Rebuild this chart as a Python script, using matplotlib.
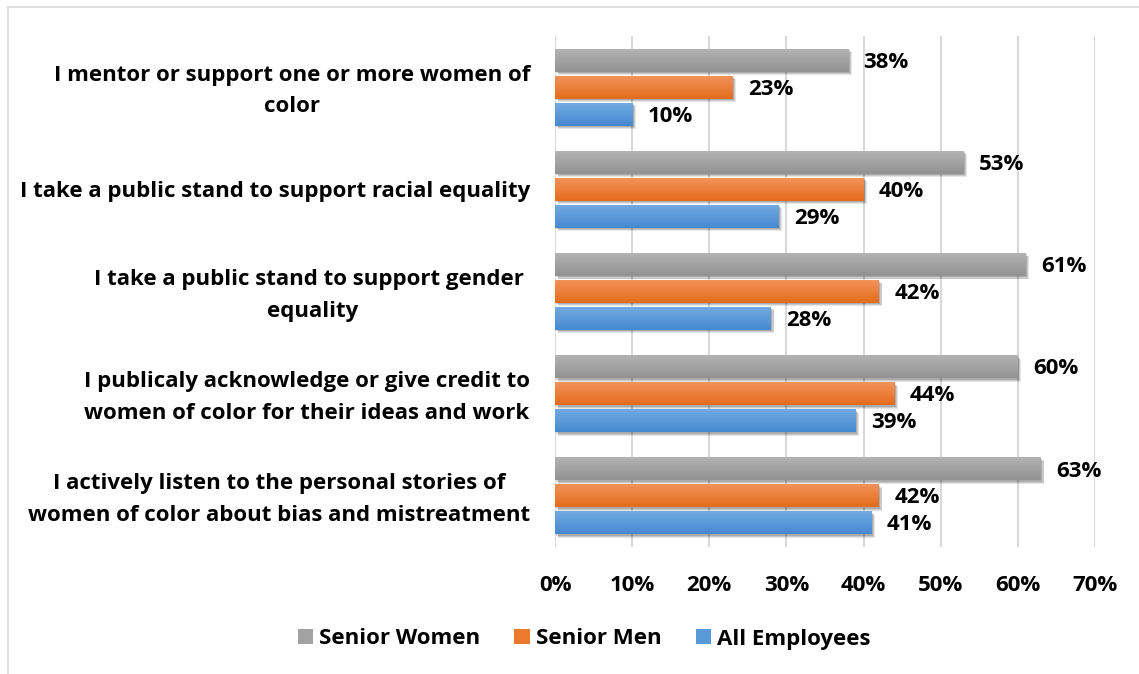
import numpy as np
import matplotlib
matplotlib.use("Agg")
import matplotlib.pyplot as plt
from matplotlib import patheffects as pe
from matplotlib import transforms
from matplotlib.patches import Rectangle
from matplotlib.lines import Line2D

plt.rcParams['font.family'] = ['Open Sans', 'DejaVu Sans']
plt.rcParams['font.weight'] = 'bold'

categories = [
    "I mentor or support one or more women of\ncolor",
    "I take a public stand to support racial equality",
    "I take a public stand to support gender \nequality",
    "I publicaly acknowledge or give credit to\nwomen of color for their ideas and work",
    "I actively listen to the personal stories of\nwomen of color about bias and mistreatment",
]
series_names = ["Senior Women", "Senior Men", "All Employees"]
senior_women = [38, 53, 61, 60, 63]
senior_men = [23, 40, 42, 44, 42]
all_employees = [10, 29, 28, 39, 41]
x_ticks = [0, 10, 20, 30, 40, 50, 60, 70]

FS = 16

# top / bottom gradient colours for each series
grad_colors = [
    ("#b3b3b3", "#929292"),
    ("#f4925a", "#e36c1c"),
    ("#72aae2", "#4689d0"),
]
legend_colors = ["#a2a2a2", "#ec7a2c", "#5999d8"]

fig = plt.figure(figsize=(11.39, 6.74), dpi=100)
ax = fig.add_axes([555 / 1139, 1 - 547 / 674, 540 / 1139, 511 / 674])

n = len(categories)
ypos = np.arange(n)[::-1].astype(float)
pitch = 0.264
height = 0.225
offsets = [pitch, 0.0, -pitch]
values = [senior_women, senior_men, all_employees]

shadow = [
    pe.SimplePatchShadow(offset=(2.5, -2.5), shadow_rgbFace='k', alpha=0.10),
    pe.SimplePatchShadow(offset=(1.8, -1.8), shadow_rgbFace='k', alpha=0.12),
    pe.SimplePatchShadow(offset=(1.0, -1.0), shadow_rgbFace='k', alpha=0.15),
    pe.Normal(),
]

def hex2rgb(h):
    h = h.lstrip('#')
    return np.array([int(h[i:i + 2], 16) / 255 for i in (0, 2, 4)])

for s, (vals, off, (ctop, cbot)) in enumerate(zip(values, offsets, grad_colors)):
    yc = ypos + off
    bars = ax.barh(yc, vals, height=height, color=cbot, zorder=3, linewidth=0)
    t = np.linspace(0, 1, 64)[:, None]
    grad = (1 - t) * hex2rgb(cbot) + t * hex2rgb(ctop)
    grad = grad[:, None, :]
    for b, v, y in zip(bars, vals, yc):
        b.set_path_effects(shadow)
        ax.imshow(grad, extent=[0, v, y - height / 2, y + height / 2],
                  origin='lower', aspect='auto', zorder=4, interpolation='bilinear')
        ax.annotate(f"{v}%", xy=(v, y), xytext=(11, -1.5), textcoords='offset points',
                    ha='left', va='center', fontsize=FS, fontweight='bold',
                    color='black', zorder=5)

ax.set_xlim(0, 70)
ax.set_ylim(-0.5, n - 0.5)
ax.set_xticks(x_ticks)
ax.set_xticklabels([f"{t}%" for t in x_ticks], fontsize=FS, fontweight='bold')
ax.set_yticks(ypos)
ax.set_yticklabels(categories, fontsize=FS, fontweight='bold',
                   multialignment='center', linespacing=1.68)
ax.tick_params(axis='x', length=0, pad=20)
ax.tick_params(axis='y', length=0, pad=18)
# two-line labels sit a few pixels higher
lift = transforms.ScaledTranslation(0, 4 / 100, fig.dpi_scale_trans)
for lab in ax.get_yticklabels():
    if "\n" in lab.get_text():
        lab.set_transform(lab.get_transform() + lift)
ax.grid(axis='x', color='#d9d9d9', linewidth=1.5, zorder=0)
ax.set_axisbelow(True)
for sp in ax.spines.values():
    sp.set_visible(False)

handles = [Rectangle((0, 0), 1, 1, facecolor=c, edgecolor='none') for c in legend_colors]
fig.legend(handles, series_names, loc='center', bbox_to_anchor=(584 / 1139, 1 - 639 / 674),
           ncol=3, frameon=False, handlelength=0.68, handleheight=0.68,
           handletextpad=0.27, columnspacing=1.55, prop={'weight': 'bold', 'size': FS})

# chart area border (left and top edges)
fig.add_artist(Line2D([8 / 1139, 8 / 1139], [0, 1 - 7 / 674], transform=fig.transFigure,
                      color='#d9d9d9', linewidth=1.2))
fig.add_artist(Line2D([8 / 1139, 1], [1 - 7 / 674, 1 - 7 / 674], transform=fig.transFigure,
                      color='#d9d9d9', linewidth=1.2))

fig.savefig("out.png", dpi=100)
